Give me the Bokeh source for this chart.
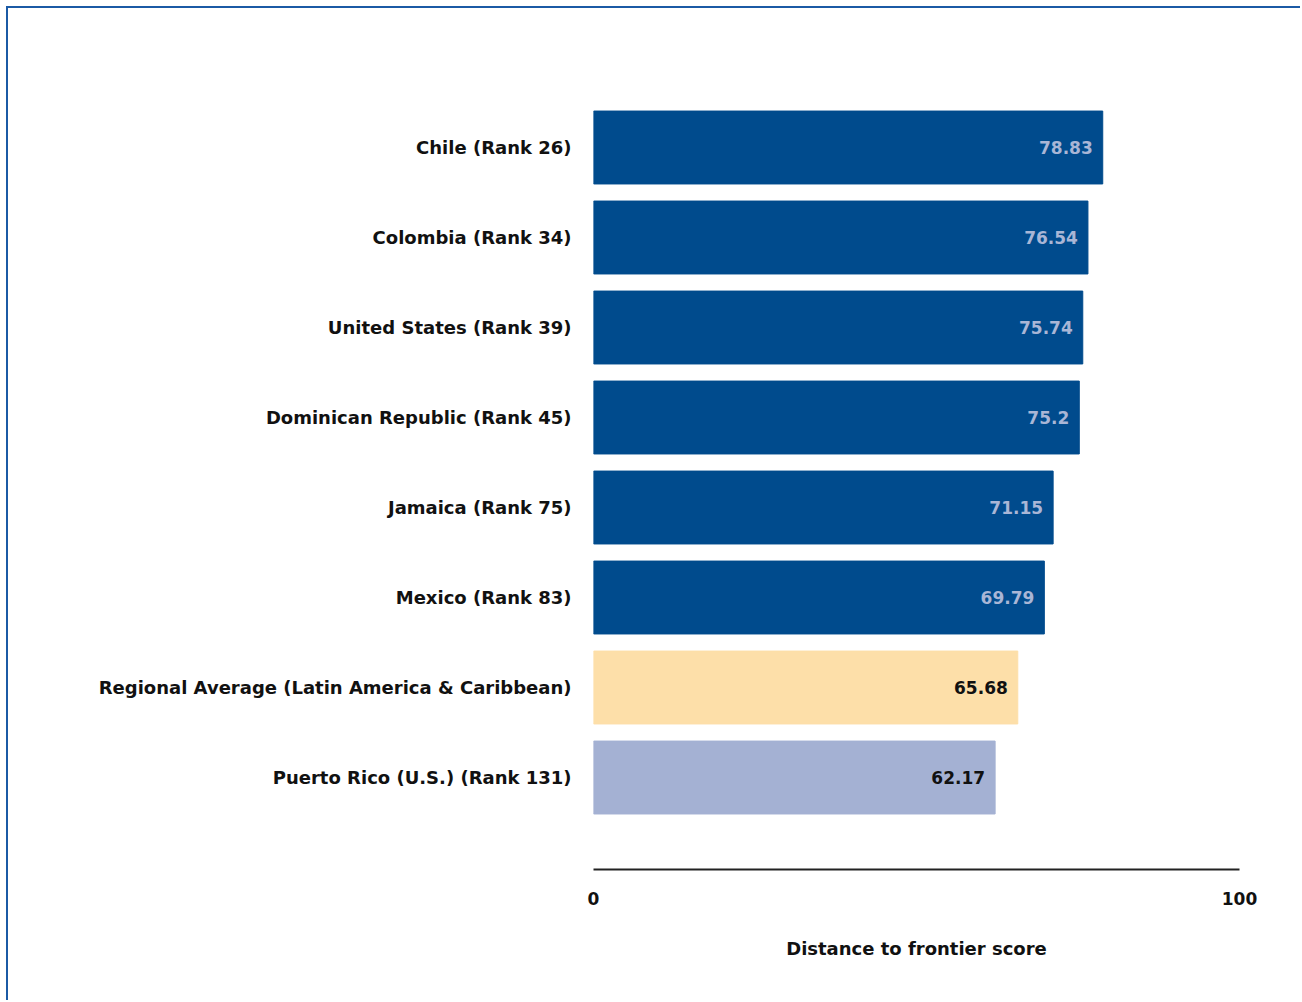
from bokeh.plotting import figure
from bokeh.models import ColumnDataSource, Range1d, FixedTicker
from bokeh.core.properties import value
from bokeh.embed import file_html
from bokeh.resources import INLINE

categories = ["Chile (Rank 26)", "Colombia (Rank 34)", "United States (Rank 39)",
              "Dominican Republic (Rank 45)", "Jamaica (Rank 75)", "Mexico (Rank 83)",
              "Regional Average (Latin America & Caribbean)", "Puerto Rico (U.S.) (Rank 131)"]
scores = [78.83, 76.54, 75.74, 75.2, 71.15, 69.79, 65.68, 62.17]
score_labels = ["78.83", "76.54", "75.74", "75.2", "71.15", "69.79", "65.68", "62.17"]
bar_colors = ["#004b8d"] * 6 + ["#fddfa9", "#a4b1d3"]
label_colors = ["#a9b6d6"] * 6 + ["#111111", "#111111"]
x_ticks = [0, 100]
x_title = "Distance to frontier score"

FONT = "DejaVu Sans"
pos = list(range(len(categories)))

src = ColumnDataSource(dict(y=pos, score=scores, lab=score_labels,
                            color=bar_colors, lcolor=label_colors))

p = figure(width=1294, height=994, output_backend="svg", toolbar_location=None,
           x_range=Range1d(0, 100), y_range=Range1d(8.022, -1.189),
           min_border_left=585, min_border_right=63, min_border_top=32,
           min_border_bottom=133)
p.styles = {"margin-left": "6px", "margin-top": "6px",
            "border-left": "2px solid #1b5aa5", "border-top": "2px solid #1b5aa5"}
p.outline_line_color = None
p.grid.visible = False

p.hbar(y="y", left=0, right="score", height=0.81, fill_color="color",
       line_color="color", source=src)
p.text(x="score", y="y", text="lab", text_color="lcolor", x_offset=-10,
       text_align="right", text_baseline="middle", text_font=value(FONT),
       text_font_style="bold", text_font_size="17px", source=src)

# y axis with category names
yax = p.yaxis[0]
yax.ticker = FixedTicker(ticks=pos)
yax.major_label_overrides = {i: c for i, c in zip(pos, categories)}
yax.axis_line_color = None
yax.major_tick_line_color = None
yax.minor_tick_line_color = None
yax.major_label_standoff = 16
yax.major_label_text_font = FONT
yax.major_label_text_font_style = "bold"
yax.major_label_text_font_size = "18px"
yax.major_label_text_color = "#111111"

xax = p.xaxis[0]
xax.ticker = FixedTicker(ticks=x_ticks)
xax.axis_line_color = "#222222"
xax.axis_line_width = 2
xax.major_tick_line_color = None
xax.minor_tick_line_color = None
xax.major_label_standoff = 16
xax.major_label_text_font = FONT
xax.major_label_text_font_style = "bold"
xax.major_label_text_font_size = "17px"
xax.major_label_text_color = "#111111"
xax.axis_label = x_title
xax.axis_label_standoff = 30
xax.axis_label_text_font = FONT
xax.axis_label_text_font_style = "bold"
xax.axis_label_text_font_size = "18px"
xax.axis_label_text_color = "#111111"

open("out.html", "w").write(file_html(p, INLINE))
